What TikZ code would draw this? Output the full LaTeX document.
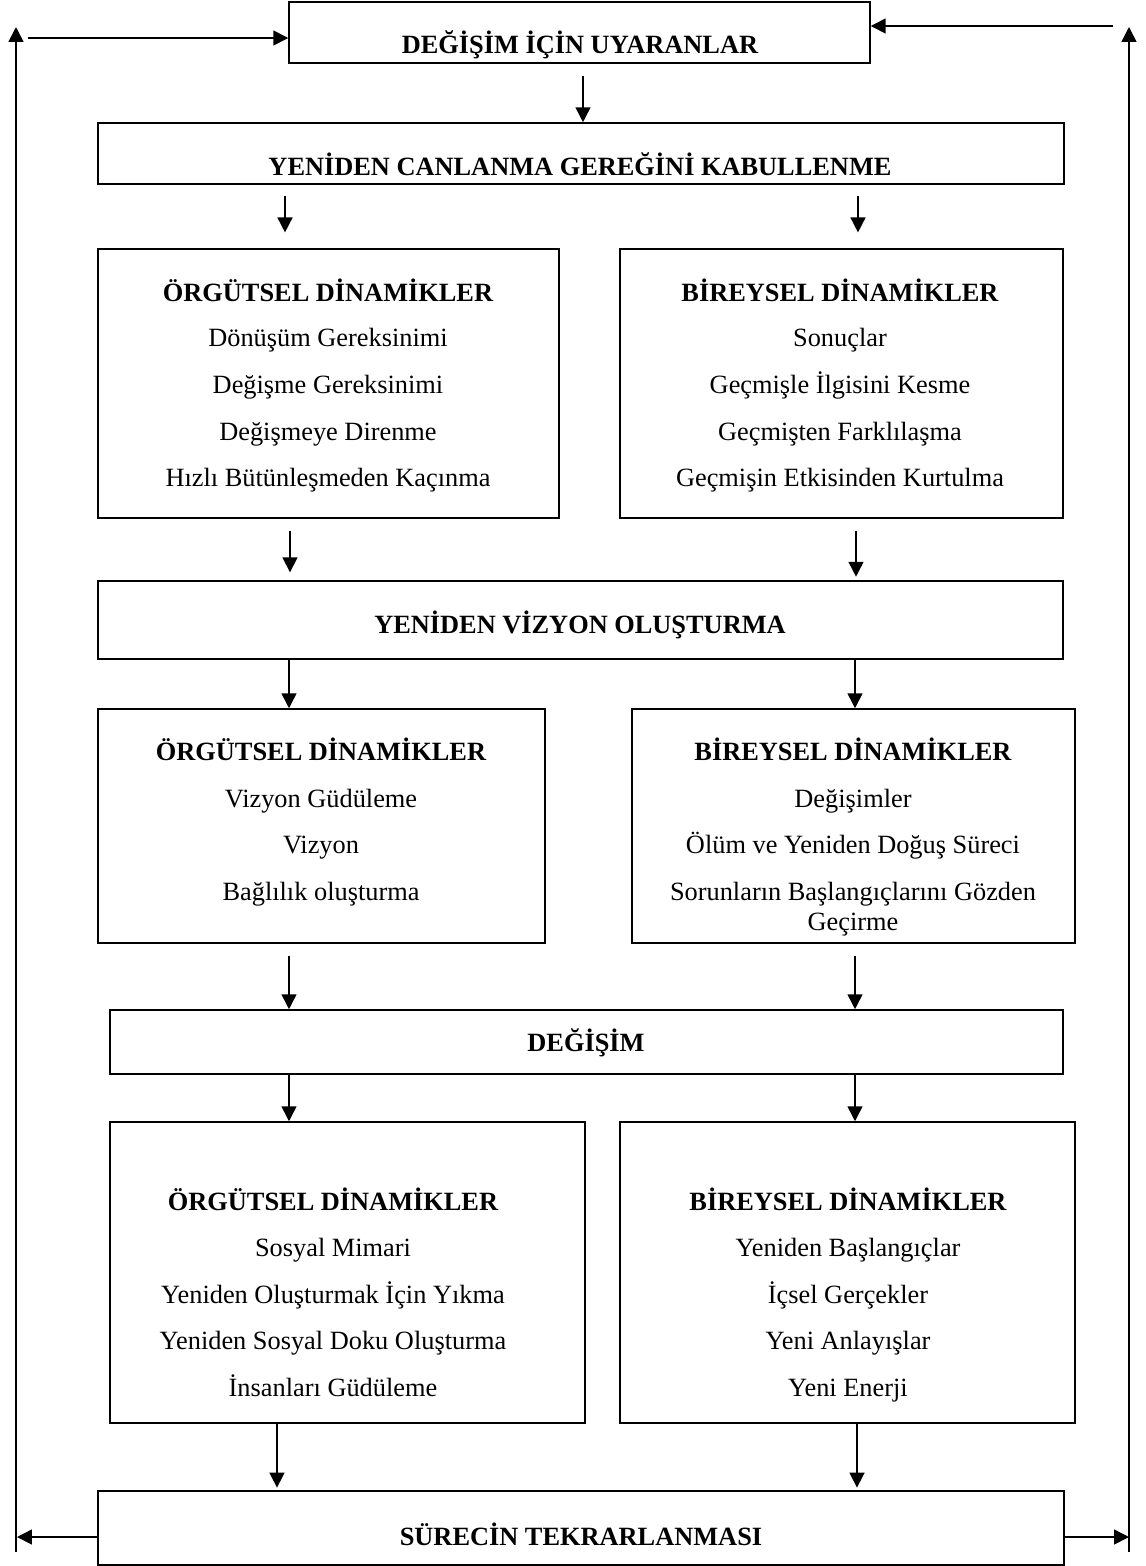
\documentclass[tikz,border=0pt]{standalone}
\usepackage{fontspec}
\setmainfont{Liberation Serif}
\usetikzlibrary{arrows.meta,positioning}

\begin{document}
\begin{tikzpicture}[x=0.02cm,y=-0.02cm,font=\fontsize{15}{18}\selectfont,
  box/.style={draw,line width=0.9pt,inner sep=0pt},
  txt/.style={anchor=base,inner sep=0pt,yshift=-5pt},
  hd/.style={txt,font=\fontsize{15}{18}\selectfont\bfseries},
  arr/.style={-{Triangle[length=8.5pt,width=8.5pt]},line width=0.9pt}]
  \useasboundingbox (0,0) rectangle (1146,1566);

  % frames
  \node[box,minimum width=11.62cm,minimum height=1.22cm] (stim) at (579.5,32.5) {};
  \node[box,minimum width=19.32cm,minimum height=1.22cm] (accept) at (581,153.5) {};
  \node[box,minimum width=9.22cm,minimum height=5.38cm] (org1) at (328.5,383.5) {};
  \node[box,minimum width=8.86cm,minimum height=5.38cm] (ind1) at (841.5,383.5) {};
  \node[box,minimum width=19.3cm,minimum height=1.56cm] (vision) at (580.5,620) {};
  \node[box,minimum width=8.94cm,minimum height=4.68cm] (org2) at (321.5,826) {};
  \node[box,minimum width=8.86cm,minimum height=4.68cm] (ind2) at (853.5,826) {};
  \node[box,minimum width=19.06cm,minimum height=1.28cm] (change) at (586.5,1042) {};
  \node[box,minimum width=9.5cm,minimum height=6.02cm] (org3) at (347.5,1272.5) {};
  \node[box,minimum width=9.1cm,minimum height=6.02cm] (ind3) at (847.5,1272.5) {};
  \node[box,minimum width=19.32cm,minimum height=1.48cm] (repeat) at (581,1528) {};

  % bar titles
  \node[hd] (stim-t) at (580,45) {DEĞİŞİM İÇİN UYARANLAR};
  \node[hd] (accept-t) at (580,167) {YENİDEN CANLANMA GEREĞİNİ KABULLENME};
  \node[hd] (vision-t) at (580,625) {YENİDEN VİZYON OLUŞTURMA};
  \node[hd] (change-t) at (586,1043) {DEĞİŞİM};
  \node[hd] (repeat-t) at (581,1537) {SÜRECİN TEKRARLANMASI};

  % first row
  \node[hd] (org1-h) at (328,293) {ÖRGÜTSEL DİNAMİKLER};
  \foreach \y/\t [count=\i] in {338/Dönüşüm Gereksinimi, 385/Değişme Gereksinimi,
      432/Değişmeye Direnme, 478/Hızlı Bütünleşmeden Kaçınma}
    { \node[txt] (org1-\i) at (328,\y) {\t}; }
  \node[hd] (ind1-h) at (840,293) {BİREYSEL DİNAMİKLER};
  \foreach \y/\t [count=\i] in {338/Sonuçlar, 385/Geçmişle İlgisini Kesme,
      432/Geçmişten Farklılaşma, 478/Geçmişin Etkisinden Kurtulma}
    { \node[txt] (ind1-\i) at (840,\y) {\t}; }

  % second row
  \node[hd] (org2-h) at (321,752) {ÖRGÜTSEL DİNAMİKLER};
  \foreach \y/\t [count=\i] in {799/Vizyon Güdüleme, 845/Vizyon, 892/Bağlılık oluşturma}
    { \node[txt] (org2-\i) at (321,\y) {\t}; }
  \node[hd] (ind2-h) at (853,752) {BİREYSEL DİNAMİKLER};
  \foreach \y/\t [count=\i] in {799/Değişimler, 845/Ölüm ve Yeniden Doğuş Süreci,
      892/Sorunların Başlangıçlarını Gözden, 922/Geçirme}
    { \node[txt] (ind2-\i) at (853,\y) {\t}; }

  % third row
  \node[hd] (org3-h) at (333,1202) {ÖRGÜTSEL DİNAMİKLER};
  \foreach \y/\t [count=\i] in {1248/Sosyal Mimari, 1295/Yeniden Oluşturmak İçin Yıkma,
      1341/Yeniden Sosyal Doku Oluşturma, 1388/İnsanları Güdüleme}
    { \node[txt] (org3-\i) at (333,\y) {\t}; }
  \node[hd] (ind3-h) at (848,1202) {BİREYSEL DİNAMİKLER};
  \foreach \y/\t [count=\i] in {1248/Yeniden Başlangıçlar, 1295/İçsel Gerçekler,
      1341/Yeni Anlayışlar, 1388/Yeni Enerji}
    { \node[txt] (ind3-\i) at (848,\y) {\t}; }

  % columns of the down arrows
  \coordinate (cm) at (583,0);
  \coordinate (ca) at (285,0); \coordinate (cb) at (858,0);
  \coordinate (cc) at (290,0); \coordinate (cd) at (856,0);
  \coordinate (ce) at (289,0); \coordinate (cf) at (855,0);
  \coordinate (cg) at (277,0); \coordinate (ch) at (857,0);

  \draw[arr,shorten <=6.8pt] (stim.south -| cm) -- (accept.north -| cm);
  \draw[arr,shorten <=6.2pt,shorten >=9pt] (accept.south -| ca) -- (org1.north -| ca);
  \draw[arr,shorten <=6.2pt,shorten >=9pt] (accept.south -| cb) -- (ind1.north -| cb);
  \draw[arr,shorten <=6.8pt,shorten >=4.5pt] (org1.south -| cc) -- (vision.north -| cc);
  \draw[arr,shorten <=6.8pt,shorten >=2pt] (ind1.south -| cd) -- (vision.north -| cd);
  \draw[arr] (vision.south -| ce) -- (org2.north -| ce);
  \draw[arr] (vision.south -| cf) -- (ind2.north -| cf);
  \draw[arr,shorten <=6.8pt] (org2.south -| ce) -- (change.north -| ce);
  \draw[arr,shorten <=6.8pt] (ind2.south -| cf) -- (change.north -| cf);
  \draw[arr] (change.south -| ce) -- (org3.north -| ce);
  \draw[arr] (change.south -| cf) -- (ind3.north -| cf);
  \draw[arr,shorten >=1.5pt] (org3.south -| cg) -- (repeat.north -| cg);
  \draw[arr,shorten >=1.5pt] (ind3.south -| ch) -- (repeat.north -| ch);

  % feedback loop
  \coordinate (lb) at (16,1552); \coordinate (lt) at (16,27);
  \coordinate (rb) at (1129,1552); \coordinate (rt) at (1129,27);
  \coordinate (tl) at (28,38); \coordinate (tr) at (1113,26);
  \coordinate (bl) at (17,1537); \coordinate (br) at (1129,1537);
  \draw[arr] (lb) -- (lt);
  \draw[arr] (rb) -- (rt);
  \draw[arr] (tl) -- (stim.west |- tl);
  \draw[arr] (tr) -- (stim.east |- tr);
  \draw[arr] (repeat.west |- bl) -- (bl);
  \draw[arr] (repeat.east |- br) -- (br);
\end{tikzpicture}
\end{document}
